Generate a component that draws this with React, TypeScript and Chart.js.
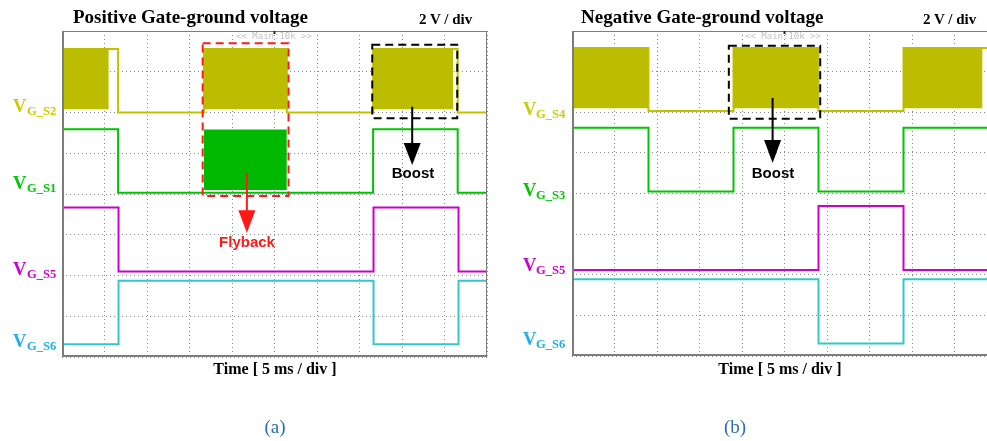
import React, { useEffect, useRef } from "react";
import { Chart, registerables } from "chart.js";

Chart.register(...registerables);

// ---------------- Data (time in divisions, 5 ms/div; voltage in divisions, 2 V/div) ----------------
// Panel (a) – Positive gate-ground voltage
const aS2Times = [0, 1.32, 3.34, 5.29, 7.32, 9.31, 10];
const aS2Levels = [7.56, 6.0, 7.56, 6.0, 7.56, 6.0, 6.0];
const aS2BurstStart = [0, 3.34, 7.32];
const aS2BurstEnd = [1.1, 5.29, 9.2];
const aS2BurstRange = [6.08, 7.56];

const aS1Times = [0, 1.32, 7.32, 9.31, 10];
const aS1Levels = [5.59, 4.03, 5.59, 4.03, 4.03];
const aS1BurstStart = [3.34];
const aS1BurstEnd = [5.29];
const aS1BurstRange = [4.1, 5.57];

const aS5Times = [0, 1.33, 7.33, 9.33, 10];
const aS5Levels = [3.67, 2.1, 3.67, 2.1, 2.1];

const aS6Times = [0, 1.33, 7.33, 9.33, 10];
const aS6Levels = [0.31, 1.87, 0.31, 1.87, 1.87];

// Panel (b) – Negative gate-ground voltage
const bS4Times = [0, 1.8, 3.8, 5.8, 7.8, 9.8, 10];
const bS4Levels = [7.58, 6.03, 7.58, 6.03, 7.58, 6.03, 6.03];
const bS4BurstStart = [0, 3.8, 7.79];
const bS4BurstEnd = [1.79, 5.79, 9.66];
const bS4BurstRange = [6.1, 7.58];

const bS3Times = [0, 1.8, 3.8, 5.8, 7.8, 10];
const bS3Levels = [5.62, 4.05, 5.62, 4.05, 5.62, 5.62];

const bS5Times = [0, 5.8, 7.8, 10];
const bS5Levels = [2.12, 3.69, 2.12, 2.12];

const bS6Times = [0, 5.8, 7.8, 10];
const bS6Levels = [1.89, 0.31, 1.89, 1.89];

// Axis ranges (divisions)
const timeDivs = [0, 10];
const voltDivs = [0, 8];

// ---------------- Styles ----------------
const YELLOW_TRACE = "#c2c200";
const YELLOW_FILL = "#bcbc00";
const GREEN_TRACE = "#00c400";
const GREEN_FILL = "#00b800";
const MAGENTA = "#cc00cc";
const CYAN = "#33c8c8";

const SERIF = '"Liberation Serif", "Times New Roman", serif';
const SANS = '"Liberation Sans", Arial, sans-serif';
const MONO = '"DejaVu Sans Mono", monospace';

type Box = { x0: number; x1: number; y0: number; y1: number; color: string };
type Arrow = { x: number; y0: number; yHead: number; y1: number; color: string };

const aBoxes: Box[] = [
  { x0: 3.31, x1: 5.33, y0: 3.95, y1: 7.7, color: "#ff1a1a" },
  { x0: 7.3, x1: 9.3, y0: 5.86, y1: 7.66, color: "#000000" },
];
const aArrows: Arrow[] = [
  { x: 4.35, y0: 4.52, yHead: 3.6, y1: 3.04, color: "#ff1a1a" },
  { x: 8.24, y0: 6.14, yHead: 5.25, y1: 4.71, color: "#000000" },
];
const bBoxes: Box[] = [{ x0: 3.69, x1: 5.84, y0: 5.84, y1: 7.64, color: "#000000" }];
const bArrows: Arrow[] = [{ x: 4.72, y0: 6.35, yHead: 5.32, y1: 4.75, color: "#000000" }];

function stepData(times: number[], levels: number[]) {
  return times.map((t, i) => ({ x: t, y: levels[i] }));
}

function traceDataset(times: number[], levels: number[], color: string) {
  return {
    type: "line" as const,
    data: stepData(times, levels),
    borderColor: color,
    backgroundColor: color,
    borderWidth: 2,
    pointRadius: 0,
    stepped: "before" as const,
    fill: false,
    order: 2,
  };
}

function burstDatasets(starts: number[], ends: number[], range: number[], color: string) {
  return starts.map((s, i) => ({
    type: "line" as const,
    data: [
      { x: s, y: range[1] },
      { x: ends[i], y: range[1] },
    ],
    borderColor: color,
    backgroundColor: color,
    borderWidth: 1,
    pointRadius: 0,
    fill: { value: range[0] },
    order: 1,
  }));
}

function makeOverlayPlugin(boxes: Box[], arrows: Arrow[]) {
  return {
    id: "scopeOverlay",
    afterDatasetsDraw(chart: any) {
      const { ctx, chartArea: ca, scales } = chart;
      const xs = scales.x;
      const ys = scales.y;
      ctx.save();
      // frame
      ctx.strokeStyle = "#7c7c7c";
      ctx.lineWidth = 1;
      ctx.beginPath();
      ctx.moveTo(ca.left, ca.top + 0.5);
      ctx.lineTo(ca.right, ca.top + 0.5);
      ctx.moveTo(ca.right - 0.5, ca.top);
      ctx.lineTo(ca.right - 0.5, ca.bottom);
      ctx.stroke();
      ctx.lineWidth = 2;
      ctx.beginPath();
      ctx.moveTo(ca.left + 1, ca.top);
      ctx.lineTo(ca.left + 1, ca.bottom - 1);
      ctx.lineTo(ca.right, ca.bottom - 1);
      ctx.stroke();
      // trigger marker
      const cx = xs.getPixelForValue(5);
      ctx.fillStyle = "#222";
      ctx.fillRect(cx - 1, ca.top, 2, 3);
      // dashed boxes
      for (const b of boxes) {
        ctx.strokeStyle = b.color;
        ctx.lineWidth = 2;
        ctx.setLineDash([8, 5]);
        const l = xs.getPixelForValue(b.x0);
        const r = xs.getPixelForValue(b.x1);
        const t = ys.getPixelForValue(b.y1);
        const bt = ys.getPixelForValue(b.y0);
        ctx.strokeRect(l, t, r - l, bt - t);
      }
      ctx.setLineDash([]);
      // arrows
      for (const a of arrows) {
        const x = xs.getPixelForValue(a.x);
        const y0 = ys.getPixelForValue(a.y0);
        const yh = ys.getPixelForValue(a.yHead);
        const y1 = ys.getPixelForValue(a.y1);
        ctx.strokeStyle = a.color;
        ctx.fillStyle = a.color;
        ctx.lineWidth = 2;
        ctx.beginPath();
        ctx.moveTo(x, y0);
        ctx.lineTo(x, yh + 1);
        ctx.stroke();
        ctx.beginPath();
        ctx.moveTo(x - 8.5, yh);
        ctx.lineTo(x + 8.5, yh);
        ctx.lineTo(x, y1);
        ctx.closePath();
        ctx.fill();
      }
      ctx.restore();
    },
  };
}

function scaleOptions(range: number[]) {
  return {
    type: "linear" as const,
    min: range[0],
    max: range[1],
    ticks: { display: false, stepSize: 1 },
    grid: { color: "#8a8a8a", lineWidth: 1, drawTicks: false },
    border: { display: false, dash: [1, 3] },
  };
}

function ScopePanel(props: {
  width: number;
  height: number;
  padding: { left: number; right: number; top: number; bottom: number };
  datasets: any[];
  boxes: Box[];
  arrows: Arrow[];
}) {
  const ref = useRef<HTMLCanvasElement | null>(null);
  useEffect(() => {
    if (!ref.current) return;
    const chart = new Chart(ref.current, {
      type: "line",
      data: { datasets: props.datasets },
      options: {
        animation: false,
        responsive: false,
        events: [],
        layout: { padding: props.padding },
        plugins: { legend: { display: false }, tooltip: { enabled: false } },
        scales: { x: scaleOptions(timeDivs), y: scaleOptions(voltDivs) },
      } as any,
      plugins: [makeOverlayPlugin(props.boxes, props.arrows)],
    });
    return () => chart.destroy();
  }, []);
  return (
    <canvas
      ref={ref}
      width={props.width}
      height={props.height}
      style={{ position: "absolute", left: 0, top: 0, width: props.width, height: props.height }}
    />
  );
}

function Txt(props: {
  x: number;
  y: number;
  size: number;
  bold?: boolean;
  family?: string;
  color?: string;
  align?: "left" | "center" | "right";
  children: React.ReactNode;
}) {
  const family = props.family ?? SERIF;
  const asc = family === SANS ? 0.8465 : family === MONO ? 0.76 : 0.8375;
  const align = props.align ?? "left";
  const tx = align === "center" ? "-50%" : align === "right" ? "-100%" : "0";
  return (
    <div
      style={{
        position: "absolute",
        left: props.x,
        top: props.y - asc * props.size,
        fontSize: props.size,
        lineHeight: `${props.size}px`,
        fontFamily: family,
        fontWeight: props.bold === false ? "normal" : "bold",
        color: props.color ?? "#000",
        whiteSpace: "nowrap",
        transform: `translateX(${tx})`,
      }}
    >
      {props.children}
    </div>
  );
}

function ChLabel(props: { x: number; subX: number; y: number; color: string; sub: string }) {
  return (
    <>
      <Txt x={props.x} y={props.y} size={18.5} color={props.color}>
        V
      </Txt>
      <Txt x={props.subX} y={props.y + 3} size={12.5} color={props.color}>
        {props.sub}
      </Txt>
    </>
  );
}

const LABEL_YELLOW = "#cccc00";
const LABEL_GREEN = "#00c800";
const LABEL_MAGENTA = "#cc00cc";
const LABEL_CYAN = "#1eb0e6";

export default function App() {
  const aDatasets = [
    ...burstDatasets(aS2BurstStart, aS2BurstEnd, aS2BurstRange, YELLOW_FILL),
    ...burstDatasets(aS1BurstStart, aS1BurstEnd, aS1BurstRange, GREEN_FILL),
    traceDataset(aS2Times, aS2Levels, YELLOW_TRACE),
    traceDataset(aS1Times, aS1Levels, GREEN_TRACE),
    traceDataset(aS5Times, aS5Levels, MAGENTA),
    traceDataset(aS6Times, aS6Levels, CYAN),
  ];
  const bDatasets = [
    ...burstDatasets(bS4BurstStart, bS4BurstEnd, bS4BurstRange, YELLOW_FILL),
    traceDataset(bS4Times, bS4Levels, YELLOW_TRACE),
    traceDataset(bS3Times, bS3Levels, GREEN_TRACE),
    traceDataset(bS5Times, bS5Levels, MAGENTA),
    traceDataset(bS6Times, bS6Levels, CYAN),
  ];
  return (
    <div
      style={{
        position: "fixed",
        left: 0,
        top: 0,
        width: 987,
        height: 441,
        overflow: "hidden",
        background: "#fff",
      }}
    >
      <ScopePanel
        width={987}
        height={441}
        padding={{ left: 62, right: 500, top: 31, bottom: 84 }}
        datasets={aDatasets}
        boxes={aBoxes}
        arrows={aArrows}
      />
      <ScopePanel
        width={1100}
        height={441}
        padding={{ left: 572, right: 103, top: 31, bottom: 85 }}
        datasets={bDatasets}
        boxes={bBoxes}
        arrows={bArrows}
      />

      {/* Panel (a) texts */}
      <Txt x={73} y={22.5} size={19}>Positive Gate-ground voltage</Txt>
      <Txt x={419} y={25} size={15}>2 V / div</Txt>
      <Txt x={274} y={39} size={9} bold={false} family={MONO} color="#c4c4c4" align="center">
        {"<< Main:10k >>"}
      </Txt>
      <ChLabel x={13} subX={27} y={112} color={LABEL_YELLOW} sub="G_S2" />
      <ChLabel x={13} subX={27} y={189} color={LABEL_GREEN} sub="G_S1" />
      <ChLabel x={13} subX={27} y={275} color={LABEL_MAGENTA} sub="G_S5" />
      <ChLabel x={13} subX={27} y={347} color={LABEL_CYAN} sub="G_S6" />
      <Txt x={247} y={246.5} size={15} family={SANS} color="#ff1a1a" align="center">Flyback</Txt>
      <Txt x={413} y={178} size={15} family={SANS} align="center">Boost</Txt>
      <Txt x={275} y={374} size={16} align="center">Time [ 5 ms / div ]</Txt>
      <Txt x={275} y={433} size={19} bold={false} color="#2e6db4" align="center">(a)</Txt>

      {/* Panel (b) texts */}
      <Txt x={581} y={22.5} size={19}>Negative Gate-ground voltage</Txt>
      <Txt x={923} y={25} size={15}>2 V / div</Txt>
      <Txt x={783} y={39} size={9} bold={false} family={MONO} color="#c4c4c4" align="center">
        {"<< Main:10k >>"}
      </Txt>
      <ChLabel x={523} subX={536} y={115} color={LABEL_YELLOW} sub="G_S4" />
      <ChLabel x={523} subX={536} y={196.5} color={LABEL_GREEN} sub="G_S3" />
      <ChLabel x={523} subX={536} y={271.5} color={LABEL_MAGENTA} sub="G_S5" />
      <ChLabel x={523} subX={536} y={345} color={LABEL_CYAN} sub="G_S6" />
      <Txt x={773} y={178} size={15} family={SANS} align="center">Boost</Txt>
      <Txt x={780} y={374} size={16} align="center">Time [ 5 ms / div ]</Txt>
      <Txt x={735} y={433} size={19} bold={false} color="#2e6db4" align="center">(b)</Txt>
    </div>
  );
}
